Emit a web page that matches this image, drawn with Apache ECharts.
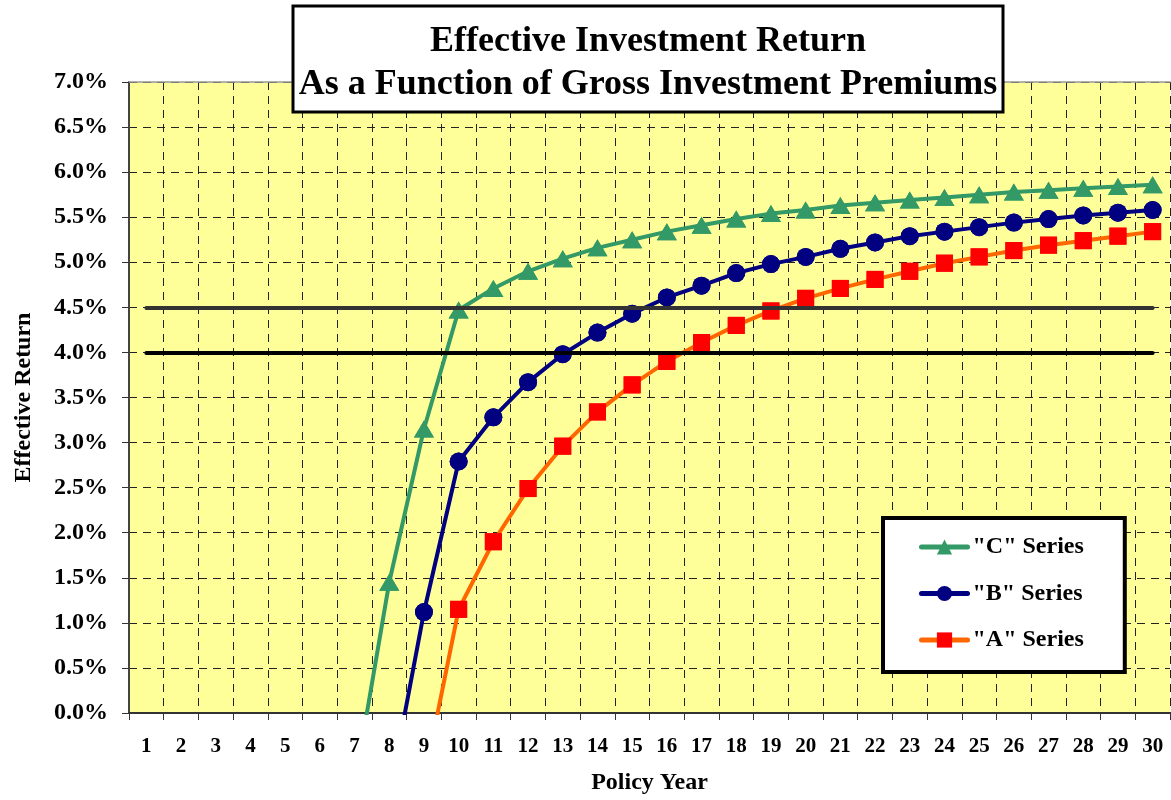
<!DOCTYPE html>
<html>
<head>
<meta charset="utf-8">
<title>Effective Investment Return</title>
<script src="https://cdn.jsdelivr.net/npm/echarts@6/dist/echarts.min.js"></script>
<style>
  html, body { margin: 0; padding: 0; background: #ffffff; }
  #chart { width: 1171px; height: 800px; }
</style>
</head>
<body>
<div id="chart"></div>
<script>
// Policy years on the horizontal axis
const years = ['1','2','3','4','5','6','7','8','9','10','11','12','13','14','15',
               '16','17','18','19','20','21','22','23','24','25','26','27','28','29','30'];

// Effective return (%) by policy year for each series; null = no value yet
const seriesC = [null, null, null, null, null, null, -0.80, 1.45, 3.15, 4.47,
                 4.71, 4.90, 5.04, 5.16, 5.25, 5.34, 5.41, 5.48, 5.54, 5.58,
                 5.63, 5.66, 5.69, 5.72, 5.75, 5.78, 5.80, 5.82, 5.84, 5.86];
const seriesB = [null, null, null, null, null, null, null, -0.92, 1.12, 2.79,
                 3.28, 3.67, 3.98, 4.22, 4.43, 4.61, 4.74, 4.88, 4.98, 5.06,
                 5.15, 5.22, 5.29, 5.34, 5.39, 5.44, 5.48, 5.52, 5.55, 5.58];
const seriesA = [null, null, null, null, null, null, null, null, -0.75, 1.15,
                 1.90, 2.49, 2.96, 3.34, 3.64, 3.90, 4.11, 4.30, 4.46, 4.60,
                 4.71, 4.81, 4.90, 4.99, 5.06, 5.13, 5.19, 5.24, 5.29, 5.34];

// Benchmark return levels (%)
const benchmarkHigh = 4.5;
const benchmarkLow = 4.0;

// Y axis range and step (%)
const yMin = 0, yMax = 7, yStep = 0.5;

const FONT = '"Liberation Serif", "Times New Roman", serif';

const styles = {
  C: { color: '#339966', lineColor: '#339966', symbol: 'triangle', size: [20, 17] },
  B: { color: '#000080', lineColor: '#000080', symbol: 'circle', size: 18 },
  A: { color: '#FF0000', lineColor: '#FF6600', symbol: 'rect', size: 17 }
};

function lineSeries(name, data, st) {
  return {
    name: name,
    type: 'line',
    data: data,
    symbol: st.symbol,
    symbolSize: st.size,
    showAllSymbol: true,
    clip: true,
    z: 2,
    itemStyle: { color: st.color },
    lineStyle: { color: st.lineColor, width: 4 },
    emphasis: { disabled: true }
  };
}

// Marker-only copies so the markers sit above the benchmark lines
function markerSeries(name, data, st) {
  return {
    name: name + ' markers',
    type: 'line',
    data: data,
    symbol: st.symbol,
    symbolSize: st.size,
    showAllSymbol: true,
    clip: true,
    z: 4,
    itemStyle: { color: st.color },
    lineStyle: { width: 0, opacity: 0 },
    emphasis: { disabled: true },
    silent: true
  };
}

function benchmark(value, color) {
  return {
    type: 'line',
    data: [],
    z: 3,
    silent: true,
    markLine: {
      symbol: 'none',
      silent: true,
      label: { show: false },
      lineStyle: { color: color, width: 4, type: 'solid', cap: 'round' },
      data: [[{ coord: [years[0], value] }, { coord: [years[years.length - 1], value] }]]
    }
  };
}

const chart = echarts.init(document.getElementById('chart'), null, { renderer: 'canvas' });

chart.setOption({
  backgroundColor: '#ffffff',
  animation: false,
  textStyle: { fontFamily: FONT },
  grid: {
    left: 129, right: 1, top: 82, bottom: 85,
    show: true, backgroundColor: '#FFFF99', borderWidth: 0
  },
  legend: {
    data: ['"C" Series', '"B" Series', '"A" Series'],
    orient: 'vertical',
    left: 883, top: 518,
    backgroundColor: '#ffffff',
    borderColor: '#000000',
    borderWidth: 4,
    padding: [17, 41, 20, 36],
    itemWidth: 46,
    itemHeight: 19,
    itemGap: 22.5,
    selectedMode: false,
    lineStyle: { width: 5, cap: 'round' },
    textStyle: { fontFamily: FONT, fontWeight: 'bold', fontSize: 24, color: '#000', lineHeight: 22, padding: [0, 0, 0, 0] }
  },
  xAxis: [{
    type: 'category',
    data: years,
    boundaryGap: true,
    name: 'Policy Year',
    nameLocation: 'middle',
    nameGap: 58,
    nameTextStyle: { fontFamily: FONT, fontWeight: 'bold', fontSize: 24, color: '#000' },
    axisLine: { lineStyle: { color: '#333', width: 2 } },
    axisTick: { show: true, length: 7, lineStyle: { color: '#333', width: 1 } },
    axisLabel: { fontFamily: FONT, fontWeight: 'bold', fontSize: 21, color: '#000', margin: 23, interval: 0 },
    splitLine: { show: true, lineStyle: { color: '#222', width: 1, type: [8, 6] } }
  }, {
    // top border of the plot area
    type: 'category',
    data: years,
    position: 'top',
    axisLine: { show: true, lineStyle: { color: '#999', width: 1.5 } },
    axisTick: { show: false },
    axisLabel: { show: false },
    splitLine: { show: false }
  }],
  yAxis: {
    type: 'value',
    min: yMin, max: yMax, interval: yStep,
    name: 'Effective Return',
    nameLocation: 'middle',
    nameRotate: 90,
    nameGap: 93,
    nameTextStyle: { fontFamily: FONT, fontWeight: 'bold', fontSize: 24, color: '#000' },
    axisLine: { show: true, lineStyle: { color: '#444', width: 2 } },
    axisTick: { show: true, length: 7, lineStyle: { color: '#333', width: 1 } },
    axisLabel: {
      fontFamily: FONT, fontWeight: 'bold', fontSize: 24, color: '#000', margin: 21,
      formatter: v => v.toFixed(1) + '%'
    },
    splitLine: { show: true, lineStyle: { color: '#222', width: 1, type: [8, 6] } }
  },
  graphic: [{
    type: 'rect',
    zlevel: 2,
    z: 100,
    shape: { x: 293, y: 6, width: 710, height: 106 },
    style: { fill: '#ffffff', stroke: '#000000', lineWidth: 3 }
  }, {
    type: 'text',
    zlevel: 2,
    z: 101,
    x: 648, y: 63,
    style: {
      text: 'Effective Investment Return\nAs a Function of Gross Investment Premiums',
      fontFamily: FONT, fontWeight: 'bold', fontSize: 36, lineHeight: 43,
      fill: '#000', align: 'center', verticalAlign: 'middle'
    }
  }],
  series: [
    lineSeries('"C" Series', seriesC, styles.C),
    lineSeries('"B" Series', seriesB, styles.B),
    lineSeries('"A" Series', seriesA, styles.A),
    benchmark(benchmarkHigh, '#333333'),
    benchmark(benchmarkLow, '#000000'),
    markerSeries('"C" Series', seriesC, styles.C),
    markerSeries('"B" Series', seriesB, styles.B),
    markerSeries('"A" Series', seriesA, styles.A)
  ]
});
</script>
</body>
</html>
